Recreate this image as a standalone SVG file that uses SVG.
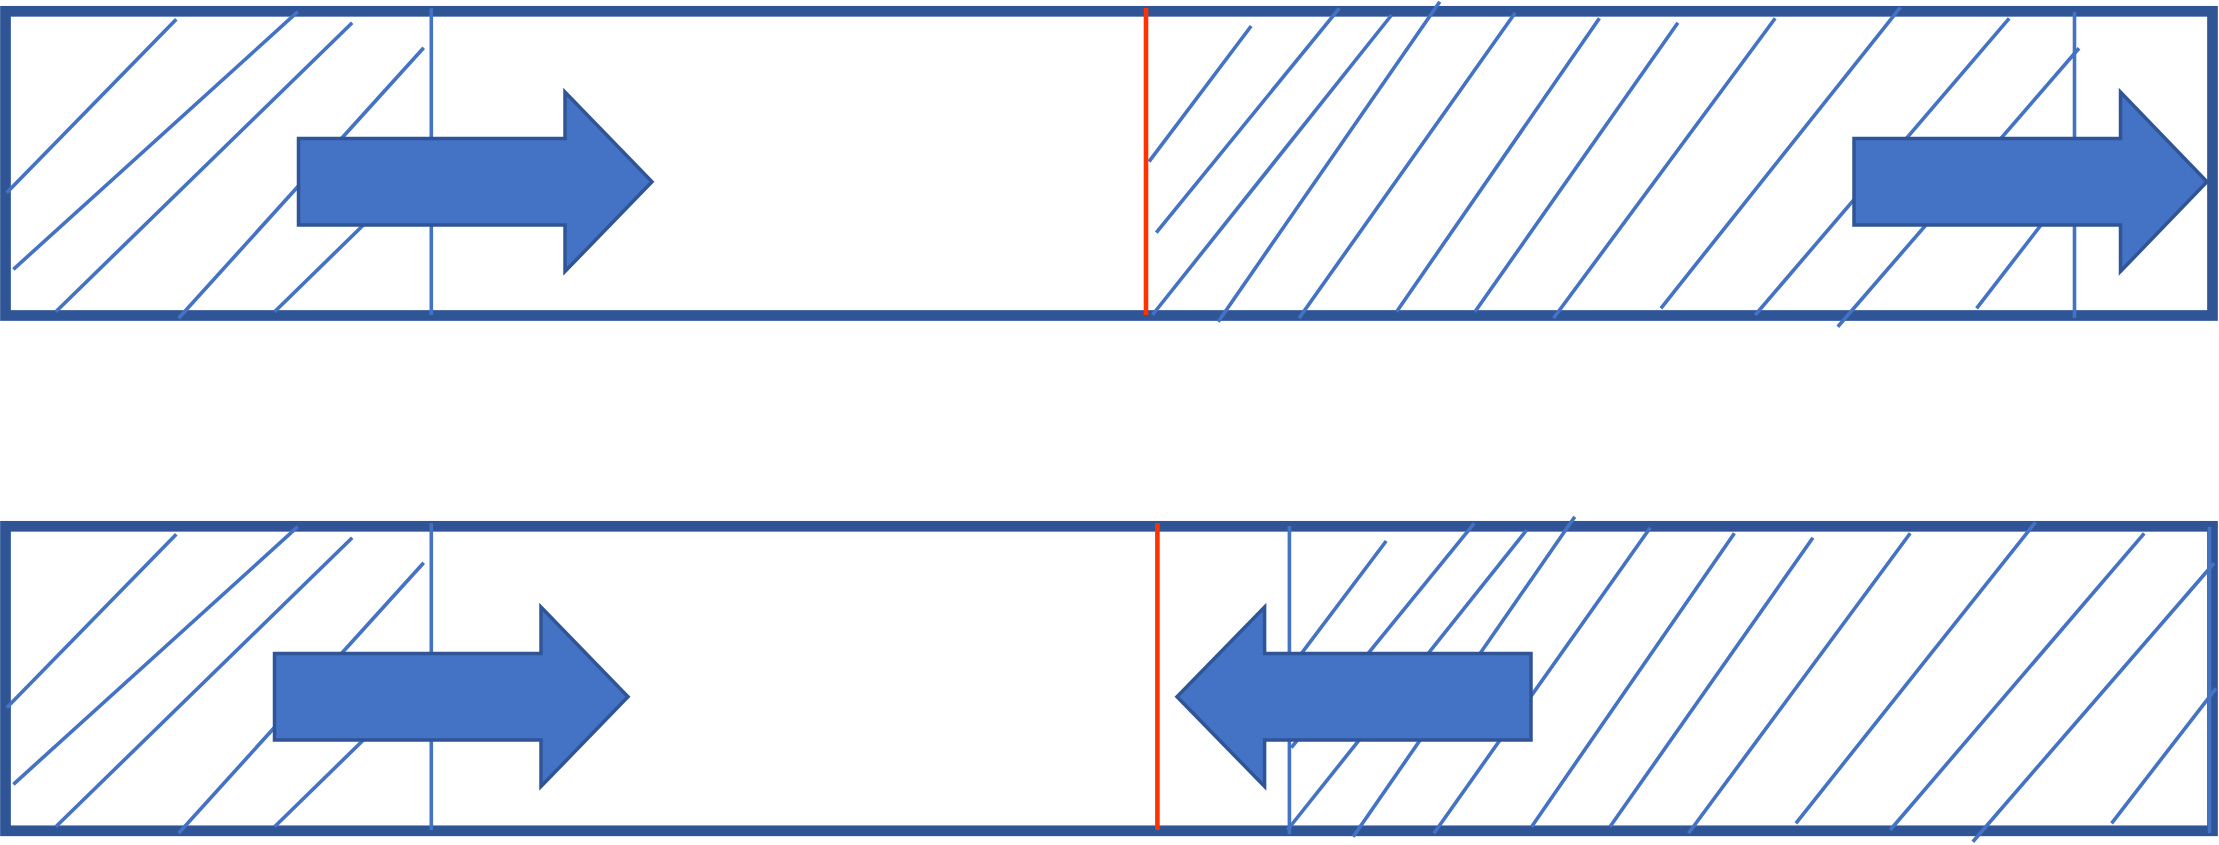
<svg xmlns="http://www.w3.org/2000/svg" width="2219" height="845" viewBox="0 0 2219 845">
<style>
.box{fill:none;stroke:#2F5597;stroke-width:10.7}
.h{stroke:#4472C4;stroke-width:3.6;fill:none;stroke-linecap:butt}
.red{stroke:#FF3300;stroke-width:4.6}
.arr{fill:#4472C4;stroke:#2F5597;stroke-width:3.5;stroke-linejoin:miter}
</style>
<rect width="2219" height="845" fill="#FFFFFF"/>
<defs>
<g id="hatchTL">
<line class="h" x1="176.3" y1="19.3" x2="6.7" y2="192.7"/>
<line class="h" x1="297.8" y1="11.7" x2="13.4" y2="269.3"/>
<line class="h" x1="352.2" y1="22.7" x2="55.8" y2="311.7"/>
<line class="h" x1="423.7" y1="47.7" x2="178.6" y2="318.3"/>
<line class="h" x1="389" y1="200" x2="274.6" y2="311.7"/>
</g>
<g id="hatchTR">
<line class="h" x1="1251.2" y1="26" x2="1149" y2="161.7"/>
<line class="h" x1="1339.2" y1="8.3" x2="1156.3" y2="232.7"/>
<line class="h" x1="1391.6" y1="15" x2="1152.4" y2="315"/>
<line class="h" x1="1439.8" y1="1.7" x2="1218.2" y2="321.7"/>
<line class="h" x1="1515.2" y1="12.7" x2="1299" y2="318.3"/>
<line class="h" x1="1599.4" y1="18.3" x2="1396.6" y2="311.7"/>
<line class="h" x1="1677.9" y1="22.7" x2="1475" y2="311.7"/>
<line class="h" x1="1775.2" y1="18.3" x2="1553.5" y2="318.3"/>
<line class="h" x1="1900.4" y1="7.3" x2="1660.9" y2="308.3"/>
<line class="h" x1="2009.2" y1="18.3" x2="1755.2" y2="315"/>
<line class="h" x1="2079" y1="48.3" x2="1837.8" y2="326.7"/>
<line class="h" x1="2081" y1="173.3" x2="1976.6" y2="308.3"/>
<line class="h" x1="2074.5" y1="11.7" x2="2074.5" y2="318"/>
</g>
</defs>

<g id="top-pipe">
<rect class="box" x="5.5" y="11.3" width="2207" height="304.2"/>
<use href="#hatchTL"/>
<line class="h" x1="431.3" y1="8.3" x2="431.3" y2="315"/>
<use href="#hatchTR"/>
<line id="top-boundary" class="red" x1="1146" y1="8" x2="1146" y2="315"/>
</g>

<g id="bottom-pipe">
<rect class="box" x="5.5" y="526.3" width="2207" height="304.5"/>
<use href="#hatchTL" transform="translate(0,515)"/>
<line class="h" x1="431.3" y1="523.3" x2="431.3" y2="830"/>
<use href="#hatchTR" transform="translate(135,515)"/>
<line class="h" x1="1289.4" y1="526" x2="1289.4" y2="834.3"/>
<line id="bottom-boundary" class="red" x1="1157.4" y1="523.3" x2="1157.4" y2="830"/>
</g>

<g id="arrow-top-left">
<path class="arr" d="M298.5,138.5 L565,138.5 L565,92 L652,181.7 L565,271.5 L565,225 L298.5,225 Z"/>
</g>
<g id="arrow-top-right">
<path class="arr" d="M1854,138.5 L2120.5,138.5 L2120.5,92 L2207,181.7 L2120.5,271.5 L2120.5,225 L1854,225 Z"/>
</g>
<g id="arrow-bottom-left">
<path class="arr" d="M274.5,653.5 L541,653.5 L541,607 L628,696.7 L541,786.5 L541,740 L274.5,740 Z"/>
</g>
<g id="arrow-bottom-right">
<path class="arr" d="M1531,653.5 L1264.6,653.5 L1264.6,607 L1177,696.7 L1264.6,786.5 L1264.6,740 L1531,740 Z"/>
</g>
<g id="connectors"></g>
</svg>
